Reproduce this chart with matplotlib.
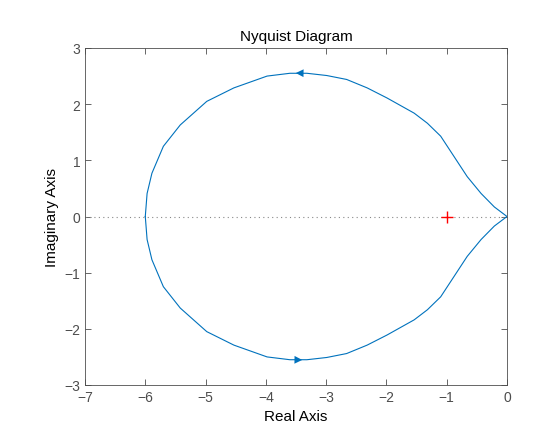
import numpy as np
from matplotlib import pyplot as plt

plt.rcParams['font.family'] = ['Liberation Sans', 'DejaVu Sans']

# upper branch of the Nyquist curve (real, imag)
re_up = [0, -0.21, -0.43, -0.66, -0.88, -1.10, -1.32, -1.54, -1.99, -2.32, -2.66,
         -2.99, -3.32, -3.60, -3.98, -4.53, -4.98, -5.42, -5.70, -5.89, -5.97, -6.0]
im_up = [0, 0.17, 0.41, 0.71, 1.07, 1.43, 1.66, 1.84, 2.11, 2.29, 2.44,
         2.51, 2.55, 2.55, 2.50, 2.29, 2.05, 1.63, 1.25, 0.77, 0.41, 0.0]
xticks = [-7, -6, -5, -4, -3, -2, -1, 0]
yticks = [-3, -2, -1, 0, 1, 2, 3]

blue = '#0072BD'
fig = plt.figure(figsize=(5.6, 4.35), dpi=100)
ax = fig.add_axes([85/560, 49/435, 422/560, 337/435])

re_up = np.array(re_up)
im_up = np.array(im_up)
ax.plot(re_up, im_up, color=blue, lw=0.8)
ax.plot(re_up, -im_up, color=blue, lw=0.8)
ax.axhline(0, color='#888888', ls=(0, (1, 3)), lw=0.8)
ax.plot(-1, 0, '+', color='red', ms=8, mew=1)

# direction arrows
ax.annotate('', xy=(-3.55, 2.555), xytext=(-3.3, 2.55),
            arrowprops=dict(arrowstyle='-|>', color=blue, lw=0, mutation_scale=14))
ax.annotate('', xy=(-3.35, -2.555), xytext=(-3.6, -2.55),
            arrowprops=dict(arrowstyle='-|>', color=blue, lw=0, mutation_scale=14))

ax.set_xlim(-7, 0)
ax.set_ylim(-3, 3)
ax.set_xticks(xticks)
ax.set_yticks(yticks)
ax.tick_params(direction='in', top=True, right=True, colors='#4d4d4d',
               labelsize=10, length=4, width=0.6)
for s in ax.spines.values():
    s.set_color('#4d4d4d')
    s.set_linewidth(0.6)
ax.set_xlabel('Real Axis', fontsize=11)
ax.set_ylabel('Imaginary Axis', fontsize=11)
ax.set_title('Nyquist Diagram', fontsize=11)
fig.savefig('out.png')
